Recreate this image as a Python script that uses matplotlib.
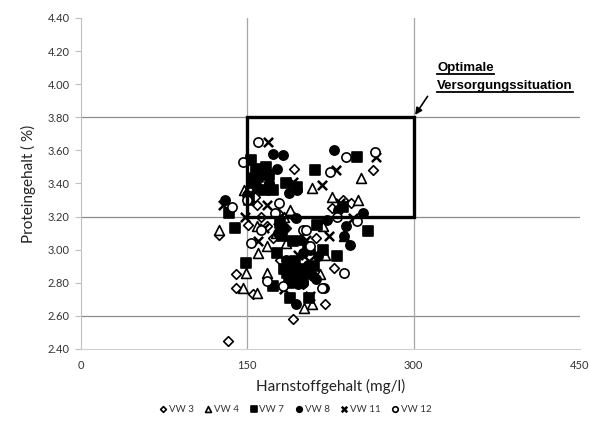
import matplotlib
matplotlib.use("Agg")
import matplotlib.pyplot as plt
from matplotlib.patches import Rectangle
from matplotlib.lines import Line2D

plt.rcParams['font.family'] = ['Lato', 'DejaVu Sans']

# ---- data (Harnstoff mg/l, Protein %) ----
vw3_x = [263, 192, 226, 244, 133, 191, 220, 140, 140, 155, 228, 125, 151, 173, 180, 200, 159, 162, 192, 212, 168, 185, 236, 157, 178]
vw3_y = [3.48, 3.49, 3.25, 3.28, 2.45, 2.58, 2.67, 2.77, 2.85, 2.73, 2.89, 3.09, 3.15, 3.07, 2.94, 2.79, 3.27, 3.20, 3.20, 3.07, 3.14, 3.13, 3.30, 3.32, 3.22]

vw4_x = [253, 208, 226, 189, 218, 125, 159, 160, 149, 168, 146, 159, 201, 208, 185, 168, 191, 237, 216, 147, 183, 220, 250, 152, 176]
vw4_y = [3.43, 3.37, 3.32, 3.24, 3.14, 3.12, 3.14, 2.98, 2.86, 2.86, 2.77, 2.74, 2.65, 2.67, 3.04, 3.02, 2.92, 3.08, 2.85, 3.36, 3.20, 2.97, 3.30, 3.38, 3.10]

vw7_x = [153, 167, 158, 211, 249, 185, 195, 165, 134, 139, 149, 173, 189, 206, 213, 191, 259, 231, 236, 180, 218, 183, 195, 177, 156, 200, 210, 188, 205, 170, 152, 186, 193, 198, 181, 160, 173]
vw7_y = [3.54, 3.50, 3.49, 3.48, 3.56, 3.40, 3.38, 3.36, 3.22, 3.13, 2.92, 2.78, 2.71, 2.71, 3.15, 3.05, 3.11, 2.96, 3.26, 3.16, 3.00, 2.88, 2.84, 2.98, 3.40, 2.83, 2.90, 2.80, 3.01, 3.45, 3.30, 2.86, 2.93, 2.88, 3.08, 3.44, 3.36]

vw8_x = [173, 182, 228, 177, 130, 188, 195, 153, 254, 239, 243, 194, 194, 219, 207, 237, 185, 195, 203, 212, 190, 200, 214, 178, 160, 222, 232, 198, 205, 150, 170, 188, 209, 196, 183, 166, 200]
vw8_y = [3.58, 3.57, 3.60, 3.49, 3.30, 3.34, 3.36, 3.44, 3.22, 3.14, 3.03, 3.19, 2.67, 2.77, 3.00, 3.08, 2.94, 2.88, 2.86, 2.82, 2.83, 2.80, 2.96, 3.10, 3.37, 3.18, 3.24, 3.06, 2.91, 3.33, 3.40, 2.90, 2.84, 2.79, 3.13, 3.46, 2.98]

vw11_x = [169, 266, 230, 217, 170, 148, 160, 168, 183, 207, 206, 203, 224, 245, 128, 191, 234, 165, 152, 196, 178, 158]
vw11_y = [3.65, 3.56, 3.48, 3.39, 3.43, 3.20, 3.05, 3.27, 2.76, 2.72, 2.93, 3.06, 3.08, 3.19, 3.27, 3.41, 3.28, 3.13, 3.32, 2.97, 3.18, 3.38]

vw12_x = [160, 146, 239, 265, 225, 136, 179, 231, 249, 200, 203, 153, 207, 237, 182, 217, 168, 162, 175, 150]
vw12_y = [3.65, 3.53, 3.56, 3.59, 3.47, 3.26, 3.28, 3.20, 3.17, 3.12, 3.12, 3.04, 3.02, 2.86, 2.78, 2.77, 2.81, 3.12, 3.22, 3.30]

series = [
    ("VW 3", vw3_x, vw3_y, 'D', 'white', 24),
    ("VW 4", vw4_x, vw4_y, '^', 'white', 50),
    ("VW 7", vw7_x, vw7_y, 's', 'black', 42),
    ("VW 8", vw8_x, vw8_y, 'o', 'black', 44),
    ("VW 11", vw11_x, vw11_y, 'x', 'black', 44),
    ("VW 12", vw12_x, vw12_y, 'o', 'white', 44),
]

x_ticks = [0, 150, 300, 450]
y_ticks = [2.40, 2.60, 2.80, 3.00, 3.20, 3.40, 3.60, 3.80, 4.00, 4.20, 4.40]
grid_y = [2.60, 3.20, 3.80]
grid_x = [150, 300]
opt_box = (150, 3.20, 150, 0.60)  # x, y, width, height

fig = plt.figure(figsize=(5.9, 4.34), dpi=100)
ax = fig.add_axes([0.137, 0.196, 0.846, 0.7627])

for gy in grid_y:
    ax.axhline(gy, color='#8c8c8c', lw=0.9, zorder=0)
for gx in grid_x:
    ax.axvline(gx, color='#a6a6a6', lw=0.9, zorder=0)

for name, xs, ys, m, fc, s in series:
    if m == 'x':
        ax.scatter(xs, ys, marker=m, c='black', s=s, linewidths=1.8, label=name, zorder=3)
    else:
        ax.scatter(xs, ys, marker=m, facecolors=fc, edgecolors='black', s=s,
                   linewidths=1.2, label=name, zorder=3)

ax.add_patch(Rectangle((opt_box[0], opt_box[1]), opt_box[2], opt_box[3],
                       fill=False, edgecolor='black', lw=2.4, zorder=4))

ax.set_xlim(0, 450)
ax.set_ylim(2.40, 4.40)
ax.set_xticks(x_ticks)
ax.set_yticks(y_ticks)
ax.set_yticklabels([f"{v:.2f}" for v in y_ticks])
ax.tick_params(axis='both', labelsize=8, colors='#404040', labelcolor='#333333')
ax.tick_params(axis='x', length=0, pad=8)
ax.tick_params(axis='y', length=4, color='#bfbfbf', pad=4)
for sp in ['top', 'right']:
    ax.spines[sp].set_visible(False)
ax.spines['left'].set_color('#bfbfbf')
ax.spines['bottom'].set_color('#d0d0d0')

ax.set_xlabel("Harnstoffgehalt (mg/l)", fontsize=11, color='#222222', labelpad=6)
ax.set_ylabel("Proteingehalt ( %)", fontsize=11, color='#222222', labelpad=8)

# annotation
ax.annotate("", xy=(300, 3.80), xytext=(314, 3.94),
            arrowprops=dict(arrowstyle='-|>', color='black', lw=1.2, mutation_scale=10),
            zorder=5)
t1 = fig.text(437 / 590, 1 - 68 / 434, "Optimale", fontsize=9.5, fontweight='bold',
              family=['Liberation Sans'], ha='left', va='center')
t2 = fig.text(437 / 590, 1 - 86 / 434, "Versorgungssituation", fontsize=9.5, fontweight='bold',
              family=['Liberation Sans'], ha='left', va='center')

leg = fig.legend(loc='center', bbox_to_anchor=(0.5, 1 - 409 / 434), ncol=6, frameon=False,
                 fontsize=7, handletextpad=0.1, columnspacing=1.0, markerscale=0.6,
                 handlelength=1.0)
for txt in leg.get_texts():
    txt.set_color('#333333')

fig.canvas.draw()
r = fig.canvas.get_renderer()
for t in (t1, t2):
    bb = t.get_window_extent(r)
    yline = bb.y0 + 0.5
    fig.add_artist(Line2D([bb.x0 / fig.bbox.width, bb.x1 / fig.bbox.width],
                          [yline / fig.bbox.height, yline / fig.bbox.height],
                          transform=fig.transFigure, color='black', lw=1.3))

fig.savefig("out.png", dpi=100)
